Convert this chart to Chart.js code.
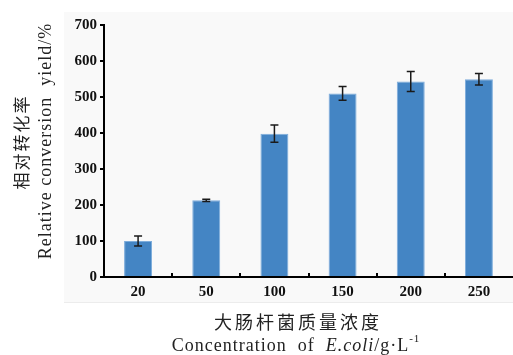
<!DOCTYPE html>
<html>
<head>
<meta charset="utf-8">
<script src="https://cdn.jsdelivr.net/npm/chart.js@4"></script>
<style>
  html, body { margin: 0; padding: 0; background: #fff; }
  #wrap { width: 513px; height: 355px; position: relative; }
</style>
</head>
<body>
<div id="wrap"><canvas id="chart" width="513" height="355"></canvas></div>
<script>
// Chart data
const concentrations = ['20', '50', '100', '150', '200', '250'];
const yieldValues = [100, 213, 398, 510, 543, 549];
const yieldErrors = [14, 3, 24, 19, 28, 16];
const yTicks = [0, 100, 200, 300, 400, 500, 600, 700];

const serif = '"Liberation Serif", "DejaVu Serif", serif';
const cjk = '"Noto Sans CJK SC", sans-serif';

// Grey panel behind the plot, like the journal figure
const panelPlugin = {
  id: 'panel',
  beforeDraw(chart) {
    const ctx = chart.ctx;
    ctx.save();
    ctx.fillStyle = '#f9f9f9';
    ctx.fillRect(64, 12, 449, 290);
    ctx.strokeStyle = '#ececec';
    ctx.lineWidth = 1;
    ctx.beginPath();
    ctx.moveTo(64, 302.5);
    ctx.lineTo(513, 302.5);
    ctx.stroke();
    ctx.restore();
  }
};

// Error bars + inward x ticks + axis titles
const extrasPlugin = {
  id: 'extras',
  afterDatasetsDraw(chart) {
    const ctx = chart.ctx;
    const x = chart.scales.x;
    const y = chart.scales.y;
    ctx.save();
    ctx.strokeStyle = '#1a1a1a';
    ctx.lineWidth = 1.5;
    yieldValues.forEach((v, i) => {
      const px = x.getPixelForValue(i);
      const top = y.getPixelForValue(v + yieldErrors[i]);
      const bot = y.getPixelForValue(v - yieldErrors[i]);
      ctx.beginPath();
      ctx.moveTo(px, top); ctx.lineTo(px, bot);
      ctx.moveTo(px - 4, top); ctx.lineTo(px + 4, top);
      ctx.moveTo(px - 4, bot); ctx.lineTo(px + 4, bot);
      ctx.stroke();
    });
    // small tick marks between categories, pointing up
    ctx.strokeStyle = '#000';
    ctx.lineWidth = 2;
    for (let i = 0; i < concentrations.length - 1; i++) {
      const px = Math.round((x.getPixelForValue(i) + x.getPixelForValue(i + 1)) / 2);
      ctx.beginPath();
      ctx.moveTo(px, y.bottom);
      ctx.lineTo(px, y.bottom - 4);
      ctx.stroke();
    }
    ctx.restore();
  },
  afterDraw(chart) {
    const ctx = chart.ctx;
    ctx.save();
    ctx.fillStyle = '#222';
    ctx.textAlign = 'center';
    ctx.textBaseline = 'middle';

    // y title, two rotated lines
    ctx.save();
    ctx.translate(22, 142);
    ctx.rotate(-Math.PI / 2);
    ctx.font = '17px ' + cjk;
    ctx.letterSpacing = '2px';
    ctx.fillText('相对转化率', 0, 0);
    ctx.restore();

    ctx.save();
    ctx.translate(46, 141);
    ctx.rotate(-Math.PI / 2);
    ctx.font = '18px ' + serif;
    ctx.letterSpacing = '1px';
    ctx.fillText('Relative conversion  yield/%', 0, 0);
    ctx.restore();

    // x title, chinese line
    ctx.font = '18px ' + cjk;
    ctx.letterSpacing = '3px';
    ctx.fillText('大肠杆菌质量浓度', 298, 322);

    // x title, english line with italic E.coli
    ctx.letterSpacing = '1px';
    const parts = [
      { t: 'Concentration  of  ', f: '18px ' + serif },
      { t: 'E.coli', f: 'italic 18px ' + serif },
      { t: '/g\u00b7L', f: '18px ' + serif },
      { t: '-1', f: '11px ' + serif, sup: true }
    ];
    let total = 0;
    parts.forEach(p => { ctx.font = p.f; p.w = ctx.measureText(p.t).width; total += p.w; });
    let cx = 296 - total / 2;
    ctx.textAlign = 'left';
    parts.forEach(p => {
      ctx.font = p.f;
      ctx.fillText(p.t, cx, p.sup ? 339 : 346);
      cx += p.w;
    });
    ctx.restore();
  }
};

new Chart(document.getElementById('chart'), {
  type: 'bar',
  data: {
    labels: concentrations,
    datasets: [{
      data: yieldValues,
      backgroundColor: '#4485c4',
      borderColor: '#7eaddc',
      borderWidth: 1,
      barPercentage: 0.41,
      categoryPercentage: 1
    }]
  },
  options: {
    responsive: false,
    animation: false,
    layout: { padding: { top: 25, right: 0, bottom: 0, left: 0 } },
    plugins: { legend: { display: false }, tooltip: { enabled: false } },
    scales: {
      x: {
        grid: { display: false, drawTicks: false },
        border: { color: '#000', width: 2 },
        ticks: {
          color: '#111',
          padding: 6,
          font: { family: serif, size: 15, weight: 'bold' }
        },
        afterFit(scale) { scale.height = 78; }
      },
      y: {
        min: 0,
        max: 700,
        afterBuildTicks(scale) { scale.ticks = yTicks.map(v => ({ value: v })); },
        grid: { drawOnChartArea: false, drawTicks: true, tickLength: 4, color: '#000', lineWidth: 2 },
        border: { color: '#000', width: 2 },
        ticks: {
          color: '#111',
          padding: 3,
          font: { family: serif, size: 15, weight: 'bold' }
        },
        afterFit(scale) { scale.width = 104; }
      }
    }
  },
  plugins: [panelPlugin, extrasPlugin]
});
</script>
</body>
</html>
